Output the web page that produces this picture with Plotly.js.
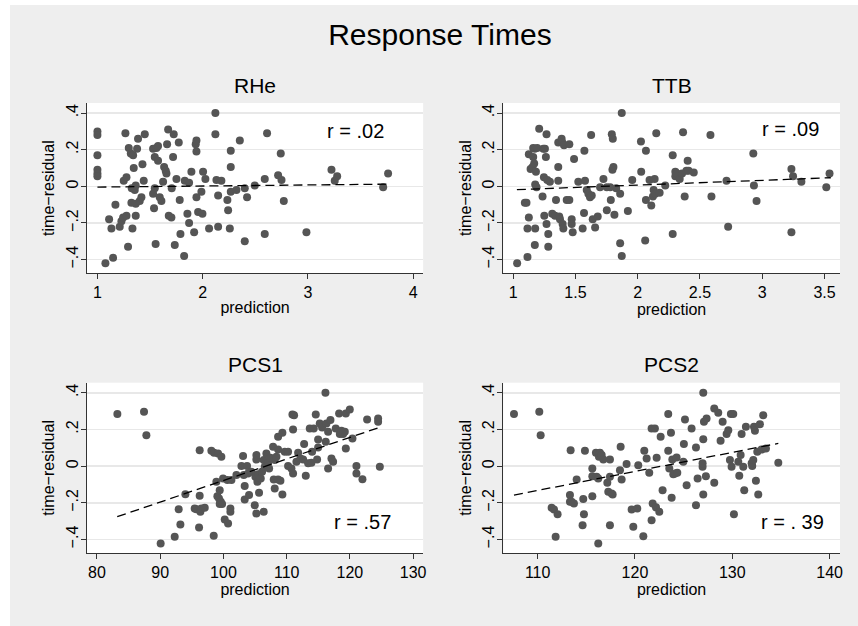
<!DOCTYPE html>
<html>
<head>
<meta charset="utf-8">
<script src="https://cdn.plot.ly/plotly-3.0.1.min.js"></script>
<style>
  html, body { margin: 0; padding: 0; background: #ffffff; }
  #chart { position: absolute; left: 10px; top: 5px; width: 848px; height: 621px; }
</style>
</head>
<body>
<div id="chart"></div>
<script>
// ---------- data ----------
const panelTitles = ["RHe", "TTB", "PCS1", "PCS2"];
const rLabels = ["r = .02", "r = .09", "r = .57", "r = . 39"];

const rheX = [1.00,1.00,1.00,1.00,1.00,1.00,1.076,1.149,1.111,1.133,1.171,1.212,1.228,1.244,1.266,1.25,1.276,1.276,1.291,1.298,1.317,1.339,1.323,1.333,1.326,1.345,1.355,1.364,1.364,1.364,1.377,1.386,1.402,1.418,1.428,1.44,1.45,1.529,1.545,1.545,1.561,1.538,1.553,1.576,1.529,1.576,1.592,1.608,1.624,1.634,1.649,1.656,1.662,1.672,1.678,1.703,1.706,1.719,1.725,1.735,1.751,1.773,1.782,1.789,1.824,1.83,1.855,1.871,1.871,1.893,1.919,1.934,1.941,1.941,1.941,1.957,1.988,1.998,2.004,2.026,2.061,2.121,2.121,2.131,2.147,2.147,2.178,2.235,2.242,2.258,2.267,2.267,2.267,2.353,2.321,2.4,2.4,2.422,2.495,2.59,2.59,2.612,2.717,2.742,2.749,2.771,2.986,3.224,3.255,3.278,3.715,3.762];
const rheY = [.30,.28,.17,.09,.07,.055,-.42,-.39,-.18,-.23,-.10,-.22,-.19,-.17,.29,.03,.05,-.16,-.33,.21,.18,.17,-.09,-.23,-.01,.10,-.02,.005,-.16,-.095,.205,.26,-.08,-.06,.12,.03,.285,.205,.16,-.01,.21,-.12,-.315,.14,-.04,.22,-.06,-.08,.025,.105,.085,.07,.23,.31,-.16,-.17,-.01,.16,.285,-.32,.04,.24,-.075,-.26,-.38,.03,-.15,-.20,.02,.08,-.25,.23,.25,.19,-.06,-.14,-.03,-.15,.08,.04,-.23,.40,.285,.035,-.05,-.22,.03,-.075,-.13,-.23,.105,.195,-.03,.25,-.02,-.30,-.01,-.06,.005,.04,-.26,.29,.06,.18,.035,-.08,-.25,.09,.03,.055,-.005,.07];
const rheFitX = [1.0, 3.76];
const rheFitY = [-0.004, 0.012];

const ttbX = [1.032,1.094,1.107,1.126,1.126,1.115,1.115,1.14,1.156,1.161,1.169,1.174,1.177,1.183,1.177,1.188,1.161,1.174,1.193,1.209,1.236,1.242,1.247,1.25,1.255,1.268,1.263,1.268,1.274,1.282,1.282,1.295,1.314,1.336,1.344,1.362,1.362,1.362,1.37,1.376,1.389,1.395,1.397,1.403,1.408,1.43,1.451,1.451,1.47,1.47,1.478,1.489,1.523,1.558,1.569,1.572,1.577,1.591,1.604,1.617,1.626,1.631,1.639,1.658,1.679,1.698,1.725,1.752,1.752,1.779,1.784,1.792,1.797,1.8,1.805,1.813,1.827,1.859,1.859,1.872,1.872,1.921,1.956,2.026,2.028,2.06,2.066,2.066,2.095,2.109,2.122,2.128,2.136,2.141,2.149,2.176,2.221,2.281,2.281,2.302,2.302,2.315,2.337,2.356,2.364,2.377,2.391,2.401,2.409,2.45,2.584,2.592,2.713,2.726,2.928,2.933,2.954,3.234,3.234,3.247,3.314,3.514,3.54];
const ttbY = [-.42,-.09,-.09,.175,-.17,-.23,-.385,.095,.105,.16,.125,-.32,-.23,.08,.01,-.005,.21,.205,.21,.315,-.055,.205,.05,-.16,.205,.285,.16,-.205,.035,-.26,-.33,.025,-.15,-.16,-.075,.24,.105,.03,-.165,-.18,.26,.24,-.205,-.23,.225,-.075,.23,-.075,-.18,-.205,-.25,.15,.025,-.23,-.145,.195,.03,-.02,-.04,-.06,.28,-.05,-.18,-.225,-.165,-.005,.04,-.13,-.005,-.005,-.075,.285,.09,.26,.105,-.155,-.01,-.04,-.31,-.38,.40,-.135,.035,.245,.08,-.295,.195,-.075,.035,-.105,-.055,-.02,.04,-.04,.29,-.035,.005,.17,-.26,.08,.055,.07,.04,.07,.295,-.055,.085,.14,.085,.075,.28,-.055,.03,-.22,.18,.005,-.08,.095,-.25,.055,.025,-.005,.07];
const ttbFitX = [1.03, 3.55];
const ttbFitY = [-0.018, 0.047];

const pcs1X = [83.22,87.44,87.81,90.07,92.29,92.92,93.19,93.98,95.45,95.72,96.14,96.24,96.24,96.35,96.51,97.04,98.09,98.46,98.51,98.88,99.04,99.15,99.3,99.41,99.41,99.57,99.67,99.78,99.94,100.2,100.62,100.73,101.1,101.1,101.26,102.05,102.84,103.1,103.21,103.36,103.36,103.73,103.89,104.05,104.42,104.95,105.05,105.21,105.21,105.21,105.37,105.47,105.63,105.9,106.11,106.37,106.37,106.53,106.79,107.06,107.22,107.43,107.85,107.95,108.11,108.11,108.38,108.64,108.64,108.64,109.01,109.32,109.32,109.69,110.22,110.22,110.75,110.91,111.01,111.01,111.17,111.54,111.81,112.18,112.6,112.76,113.02,113.39,113.65,113.91,114.02,114.28,114.6,114.81,114.97,114.97,115.23,115.6,116.13,116.18,116.29,116.55,116.55,116.92,117.08,117.34,117.76,118.29,118.4,118.66,118.92,119.19,119.35,119.35,119.98,120.4,121.03,121.03,121.98,122.72,124.46,124.46,124.73];
const pcs1Y = [.284,.296,.169,-.422,-.385,-.235,-.318,-.153,-.231,-.235,-.335,-.162,.087,-.249,-.231,-.227,.084,-.38,.073,-.085,-.164,.069,-.176,-.207,-.131,-.195,.051,-.207,-.067,-.291,-.076,-.313,-.231,-.249,-.076,-.049,0,.055,-.049,-.109,-.182,0,-.04,-.158,-.031,-.213,-.058,.036,.06,-.258,-.085,-.045,-.145,-.067,-.031,-.249,.033,-.004,.069,.018,-.013,.045,.105,-.073,-.122,.033,.051,.16,.091,-.073,-.08,.182,-.155,.078,.078,0,-.013,.282,-.04,.2,.278,.024,.073,.042,.036,.12,-.053,.015,.205,.018,.078,.205,.282,.036,.145,.102,.233,.211,.4,.133,.233,-.013,.187,.251,.042,.024,.205,.287,.175,.193,.175,.187,.287,.096,.309,.151,0,-.04,-.071,.255,.26,.242,-.004];
const pcs1FitX = [83.2, 124.46];
const pcs1FitY = [-0.276, 0.209];

const pcs2X = [107.57,110.17,110.31,111.44,111.68,111.85,112.05,113.32,113.32,113.39,113.49,113.73,114.01,114.62,114.69,114.76,114.86,115.62,115.62,115.62,115.99,116.06,116.23,116.23,116.3,116.4,116.58,116.75,117.16,117.26,117.43,117.43,117.43,117.6,117.71,118.46,118.53,118.63,119.14,119.66,119.83,120.24,120.34,120.86,120.96,121.2,121.47,121.71,121.71,121.82,122.05,122.16,122.23,122.5,122.64,122.84,123.42,123.42,123.53,123.7,123.77,123.84,123.94,124.11,124.28,124.35,124.97,125.03,125.14,125.31,125.82,126.27,126.27,126.44,126.95,126.95,127.02,127.02,127.02,127.09,127.29,127.36,128.15,128.15,128.56,128.8,129.01,129.42,129.59,129.76,129.93,129.86,130.1,130.17,130.62,130.72,130.86,130.96,131.13,131.23,131.4,131.99,132.05,132.16,132.23,132.33,132.43,132.57,132.67,132.84,133.01,133.18,133.46,134.73];
const pcs2Y = [.284,.296,.169,-.227,-.236,-.385,-.262,-.158,-.195,.087,-.195,-.204,-.073,-.322,-.18,-.262,.084,-.013,-.055,-.164,.073,-.058,-.422,-.067,.051,.073,.06,.036,-.091,-.14,.036,-.058,-.322,-.149,-.155,-.022,.105,-.073,.011,-.236,-.331,-.231,.005,-.382,.084,.042,-.036,-.295,.205,-.204,.205,-.225,.045,-.249,.16,-.131,.284,.084,-.013,.182,-.173,.036,-.045,-.04,.047,-.036,.024,.12,.255,-.104,.205,.102,-.213,-.067,-.004,.015,.147,-.155,.4,.242,-.055,.26,.315,-.091,.291,.138,.242,.175,.196,.033,-.004,.284,.284,-.262,.024,-.053,.06,.175,-.004,-.131,.215,.015,0,.033,.215,.193,-.08,.078,-.155,.229,.091,.278,.096,.018];
const pcs2FitX = [107.57, 134.73];
const pcs2FitY = [-0.158, 0.124];

const yTickVals = [-0.4, -0.2, 0, 0.2, 0.4];
const yTickText = ["\u2212.4", "\u2212.2", "0", ".2", ".4"];
const rheTicks = [1, 2, 3, 4];
const ttbTicks = [1, 1.5, 2, 2.5, 3, 3.5];
const pcs1Ticks = [80, 90, 100, 110, 120, 130];
const pcs2Ticks = [110, 120, 130, 140];
const xTitle = "prediction";
const yTitle = "time\u2212residual";
const mainTitle = "Response Times";

// ---------- styling ----------
const FONT = "Liberation Sans, Arial, Helvetica, sans-serif";
const DOT = "#555555";
const BG = "#eeeeee";

function pts(x, y, n) {
  return { type: "scatter", mode: "markers", x: x, y: y,
    xaxis: "x" + n, yaxis: "y" + n,
    marker: { color: DOT, size: 8, line: { width: 0 } }, hoverinfo: "skip" };
}
function fit(x, y, n) {
  return { type: "scatter", mode: "lines", x: x, y: y,
    xaxis: "x" + n, yaxis: "y" + n,
    line: { color: "#000000", width: 1.3, dash: "9px,5px" }, hoverinfo: "skip" };
}

const traces = [
  pts(rheX, rheY, ""), fit(rheFitX, rheFitY, ""),
  pts(ttbX, ttbY, "2"), fit(ttbFitX, ttbFitY, "2"),
  pts(pcs1X, pcs1Y, "3"), fit(pcs1FitX, pcs1FitY, "3"),
  pts(pcs2X, pcs2Y, "4"), fit(pcs2FitX, pcs2FitY, "4")
];

function xax(domain, range, ticks, anchor) {
  return { domain: domain, range: range, anchor: anchor,
    tickmode: "array", tickvals: ticks, ticktext: ticks.map(String),
    ticks: "outside", ticklen: 5, tickwidth: 1, tickcolor: "#333333",
    showline: true, linecolor: "#333333", linewidth: 1,
    showgrid: false, zeroline: false,
    tickfont: { family: FONT, size: 16, color: "#000" },
    title: { text: xTitle, font: { family: FONT, size: 16, color: "#000" }, standoff: 1 } };
}
function yax(domain, anchor) {
  return { domain: domain, range: [-0.474, 0.455], anchor: anchor,
    tickmode: "array", tickvals: yTickVals, ticktext: yTickText, tickangle: -90,
    ticks: "outside", ticklen: 5, tickwidth: 1, tickcolor: "#333333",
    ticklabelstandoff: -3,
    showline: true, linecolor: "#333333", linewidth: 1,
    showgrid: true, gridcolor: "#e8e8e8", gridwidth: 1.5, zeroline: false,
    tickfont: { family: FONT, size: 16, color: "#000" },
    title: { text: yTitle, font: { family: FONT, size: 16, color: "#000" }, standoff: 4 } };
}

const XL = [0, 0.4464], XR = [0.5527, 1];
const YT = [0.6218, 1], YB = [0, 0.3784];

function ptitle(text, xr, yr) {
  return { text: text, xref: xr + " domain", yref: yr + " domain", x: 0.5, y: 1.105,
    xanchor: "center", yanchor: "middle", showarrow: false,
    font: { family: FONT, size: 21, color: "#000" } };
}
function rlab(text, xr, yr, x, y) {
  return { text: text, xref: xr, yref: yr, x: x, y: y,
    xanchor: "center", yanchor: "middle", showarrow: false,
    font: { family: FONT, size: 20, color: "#000" } };
}

const layout = {
  width: 848, height: 621,
  margin: { l: 77.3, r: 18, t: 97.5, b: 72.7, pad: 0 },
  paper_bgcolor: BG, plot_bgcolor: "#ffffff",
  showlegend: false,
  font: { family: FONT, color: "#000" },
  title: { text: mainTitle, xref: "container", yref: "container", x: 0.507, y: 0.953,
    xanchor: "center", yanchor: "middle", font: { family: FONT, size: 30, color: "#000" } },
  xaxis: xax(XL, [0.901, 4.095], rheTicks, "y"),
  yaxis: yax(YT, "x"),
  xaxis2: xax(XR, [0.92, 3.624], ttbTicks, "y2"),
  yaxis2: yax(YT, "x2"),
  xaxis3: xax(XL, [78.42, 131.58], pcs1Ticks, "y3"),
  yaxis3: yax(YB, "x3"),
  xaxis4: xax(XR, [106.46, 141.07], pcs2Ticks, "y4"),
  yaxis4: yax(YB, "x4"),
  annotations: [
    ptitle(panelTitles[0], "x", "y"),
    ptitle(panelTitles[1], "x2", "y2"),
    ptitle(panelTitles[2], "x3", "y3"),
    ptitle(panelTitles[3], "x4", "y4"),
    rlab(rLabels[0], "x", "y", 3.455, 0.302),
    rlab(rLabels[1], "x2", "y2", 3.228, 0.311),
    rlab(rLabels[2], "x3", "y3", 121.93, -0.304),
    rlab(rLabels[3], "x4", "y4", 136.14, -0.304)
  ]
};

Plotly.newPlot("chart", traces, layout, { displayModeBar: false, staticPlot: true });
</script>
</body>
</html>
